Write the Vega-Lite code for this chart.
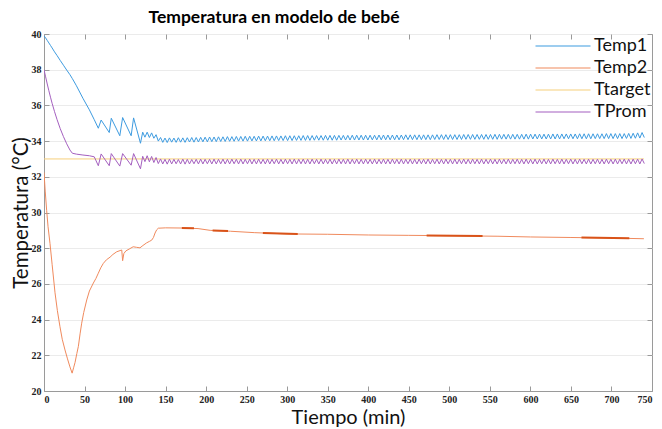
{
  "$schema": "https://vega.github.io/schema/vega-lite/v6.json",
  "width": 608,
  "height": 357,
  "autosize": {"type": "none"},
  "padding": {"left": 44, "top": 34, "right": 10, "bottom": 38},
  "background": "white",
  "view": {"stroke": "#9a9a9a"},
  "title": {"text": "Temperatura en modelo de bebé", "font": "Lato", "fontSize": 17.5, "fontWeight": "bold", "color": "#000", "anchor": "middle", "dx": -74, "offset": 3},
  "datasets": {
    "main": [
      {"t": 0, "Temp1": 39.9, "TProm": 38.0, "Ttarget": 33, "Temp2": 32.25},
      {"t": 1.5, "Temp2": 31.2},
      {"t": 2, "Temp1": 39.78, "TProm": 37.6},
      {"t": 3.3, "Temp2": 30.1},
      {"t": 4, "Temp1": 39.64, "TProm": 37.2},
      {"t": 5, "Temp2": 29.2},
      {"t": 6, "Temp1": 39.5, "TProm": 36.82},
      {"t": 7.4, "Temp2": 28.27},
      {"t": 8, "Temp1": 39.36, "TProm": 36.46},
      {"t": 10, "Temp1": 39.22, "TProm": 36.12, "Temp2": 27.1},
      {"t": 13, "Temp1": 39.0, "TProm": 35.65},
      {"t": 13.6, "Temp2": 25.5},
      {"t": 16, "Temp1": 38.8, "TProm": 35.22},
      {"t": 16.5, "Temp2": 24.5},
      {"t": 19.7, "Temp2": 23.6},
      {"t": 20, "Temp1": 38.52, "TProm": 34.7},
      {"t": 22.5, "Temp2": 22.9},
      {"t": 24, "Temp1": 38.25, "TProm": 34.25},
      {"t": 25.9, "Temp2": 22.3},
      {"t": 28, "Temp1": 37.98, "TProm": 33.85},
      {"t": 29, "Temp2": 21.8},
      {"t": 32, "Temp1": 37.72, "TProm": 33.5, "Temp2": 21.35},
      {"t": 34.7, "Temp2": 21.0},
      {"t": 35, "Temp1": 37.5, "TProm": 33.32},
      {"t": 36.5, "Temp2": 21.3},
      {"t": 38.3, "Temp2": 21.6},
      {"t": 40, "Temp1": 37.1, "TProm": 33.27},
      {"t": 40.5, "Temp2": 22.1},
      {"t": 42.4, "Temp2": 22.5},
      {"t": 44.5, "Temp2": 23.2},
      {"t": 46.5, "Temp2": 23.8},
      {"t": 48, "Temp1": 36.4, "TProm": 33.22},
      {"t": 49, "Temp2": 24.4},
      {"t": 52.7, "Temp2": 25.1},
      {"t": 56, "Temp1": 35.75, "TProm": 33.18, "Temp2": 25.6},
      {"t": 60.9, "Temp2": 26.05},
      {"t": 62, "Temp1": 35.2, "TProm": 33.12},
      {"t": 64, "Temp2": 26.3},
      {"t": 67, "Temp1": 34.72, "TProm": 32.62, "Temp2": 26.6},
      {"t": 70, "Temp2": 26.9},
      {"t": 70.5, "Temp1": 35.18, "TProm": 33.28},
      {"t": 73.2, "Temp2": 27.15},
      {"t": 77, "Temp2": 27.35},
      {"t": 80.5, "Temp1": 34.48, "TProm": 32.62},
      {"t": 81.5, "Temp2": 27.5},
      {"t": 83, "Temp1": 35.28, "TProm": 33.3},
      {"t": 85, "Temp2": 27.65},
      {"t": 89.7, "Temp2": 27.8},
      {"t": 93.5, "Temp1": 34.3, "TProm": 32.6},
      {"t": 95.9, "Temp2": 27.9},
      {"t": 97, "Temp1": 35.32, "TProm": 33.3, "Temp2": 27.3},
      {"t": 98.5, "Temp2": 27.7},
      {"t": 101, "Temp2": 27.85},
      {"t": 105, "Temp2": 27.95},
      {"t": 107.5, "Temp1": 34.3, "TProm": 32.65},
      {"t": 110, "Temp2": 28.08},
      {"t": 110.5, "Temp1": 35.3, "TProm": 33.3},
      {"t": 114, "Temp2": 28.05},
      {"t": 118.4, "Temp2": 28.02},
      {"t": 119, "Temp1": 33.88, "TProm": 32.45},
      {"t": 121.75, "Temp1": 34.5, "TProm": 33.15},
      {"t": 122, "Temp2": 28.15},
      {"t": 124.5, "Temp1": 34.22, "TProm": 32.85},
      {"t": 126.6, "Temp2": 28.3},
      {"t": 127.25, "Temp1": 34.5, "TProm": 33.18},
      {"t": 130, "Temp1": 34.2, "TProm": 32.84, "Temp2": 28.38},
      {"t": 132.75, "Temp1": 34.46, "TProm": 33.14},
      {"t": 132.8, "Temp2": 28.45},
      {"t": 135, "Temp2": 28.6},
      {"t": 135.5, "Temp1": 34.16, "TProm": 32.8},
      {"t": 137, "Temp2": 28.85},
      {"t": 138.25, "Temp1": 34.36, "TProm": 33.08},
      {"t": 139, "Temp2": 29.03},
      {"t": 141, "Temp1": 34.0, "TProm": 32.74, "Temp2": 29.12},
      {"t": 143.75, "Temp1": 34.2, "TProm": 33.0},
      {"t": 146.5, "Temp1": 33.93, "TProm": 32.72},
      {"t": 149.25, "Temp1": 34.17, "TProm": 32.98},
      {"t": 150, "Temp2": 29.14},
      {"t": 152, "Temp1": 33.92, "TProm": 32.71},
      {"t": 154.75, "Temp1": 34.18, "TProm": 32.99},
      {"t": 157.5, "Temp1": 33.94, "TProm": 32.72},
      {"t": 160.25, "Temp1": 34.17, "TProm": 32.98},
      {"t": 163, "Temp1": 33.93, "TProm": 32.73},
      {"t": 165.75, "Temp1": 34.19, "TProm": 32.97},
      {"t": 168.5, "Temp1": 33.94, "TProm": 32.72},
      {"t": 170, "Temp2": 29.13},
      {"t": 171.25, "Temp1": 34.18, "TProm": 32.99},
      {"t": 174, "Temp1": 33.93, "TProm": 32.71},
      {"t": 176.75, "Temp1": 34.19, "TProm": 32.98},
      {"t": 179.5, "Temp1": 33.95, "TProm": 32.72},
      {"t": 182.25, "Temp1": 34.2, "TProm": 32.97},
      {"t": 185, "Temp1": 33.94, "TProm": 32.73},
      {"t": 187.75, "Temp1": 34.2, "TProm": 32.98},
      {"t": 190, "Temp2": 29.1},
      {"t": 190.5, "Temp1": 33.95, "TProm": 32.72},
      {"t": 193.25, "Temp1": 34.21, "TProm": 32.99},
      {"t": 196, "Temp1": 33.96, "TProm": 32.72},
      {"t": 198.75, "Temp1": 34.22, "TProm": 32.98},
      {"t": 201.5, "Temp1": 33.96, "TProm": 32.73},
      {"t": 204.25, "Temp1": 34.23, "TProm": 32.98},
      {"t": 205, "Temp2": 29.0},
      {"t": 207, "Temp1": 33.97, "TProm": 32.72},
      {"t": 209.75, "Temp1": 34.23, "TProm": 32.99},
      {"t": 212.5, "Temp1": 33.97, "TProm": 32.72},
      {"t": 215.25, "Temp1": 34.24, "TProm": 32.98},
      {"t": 218, "Temp1": 33.98, "TProm": 32.73},
      {"t": 220.75, "Temp1": 34.24, "TProm": 32.99},
      {"t": 223.5, "Temp1": 33.98, "TProm": 32.72},
      {"t": 226.25, "Temp1": 34.25, "TProm": 32.98},
      {"t": 229, "Temp1": 33.99, "TProm": 32.72},
      {"t": 230, "Temp2": 28.95},
      {"t": 231.75, "Temp1": 34.25, "TProm": 32.99},
      {"t": 234.5, "Temp1": 33.99, "TProm": 32.73},
      {"t": 237.25, "Temp1": 34.26, "TProm": 32.98},
      {"t": 240, "Temp1": 34.0, "TProm": 32.72},
      {"t": 242.75, "Temp1": 34.26, "TProm": 32.99},
      {"t": 245.5, "Temp1": 34.0, "TProm": 32.72},
      {"t": 248.25, "Temp1": 34.27, "TProm": 32.98},
      {"t": 251, "Temp1": 34.0, "TProm": 32.73},
      {"t": 253.75, "Temp1": 34.27, "TProm": 32.99},
      {"t": 256.5, "Temp1": 34.01, "TProm": 32.72},
      {"t": 259.25, "Temp1": 34.27, "TProm": 32.98},
      {"t": 260, "Temp2": 28.87},
      {"t": 262, "Temp1": 34.01, "TProm": 32.72},
      {"t": 264.75, "Temp1": 34.28, "TProm": 32.99},
      {"t": 267.5, "Temp1": 34.01, "TProm": 32.73},
      {"t": 270.25, "Temp1": 34.28, "TProm": 32.98},
      {"t": 273, "Temp1": 34.02, "TProm": 32.72},
      {"t": 275.75, "Temp1": 34.28, "TProm": 32.99},
      {"t": 278.5, "Temp1": 34.02, "TProm": 32.72},
      {"t": 281.25, "Temp1": 34.29, "TProm": 32.98},
      {"t": 284, "Temp1": 34.02, "TProm": 32.73},
      {"t": 286.75, "Temp1": 34.29, "TProm": 32.99},
      {"t": 289.5, "Temp1": 34.03, "TProm": 32.72},
      {"t": 292.25, "Temp1": 34.29, "TProm": 32.98},
      {"t": 295, "Temp1": 34.03, "TProm": 32.72},
      {"t": 297.75, "Temp1": 34.3, "TProm": 32.99},
      {"t": 300, "Temp2": 28.8},
      {"t": 300.5, "Temp1": 34.03, "TProm": 32.73},
      {"t": 303.25, "Temp1": 34.3, "TProm": 32.98},
      {"t": 306, "Temp1": 34.03, "TProm": 32.72},
      {"t": 308.75, "Temp1": 34.3, "TProm": 32.99},
      {"t": 311.5, "Temp1": 34.04, "TProm": 32.72},
      {"t": 314.25, "Temp1": 34.3, "TProm": 32.98},
      {"t": 317, "Temp1": 34.04, "TProm": 32.73},
      {"t": 319.75, "Temp1": 34.31, "TProm": 32.99},
      {"t": 322.5, "Temp1": 34.04, "TProm": 32.72},
      {"t": 325.25, "Temp1": 34.31, "TProm": 32.98},
      {"t": 328, "Temp1": 34.04, "TProm": 32.72},
      {"t": 330.75, "Temp1": 34.31, "TProm": 32.99},
      {"t": 333.5, "Temp1": 34.05, "TProm": 32.73},
      {"t": 336.25, "Temp1": 34.31, "TProm": 32.98},
      {"t": 339, "Temp1": 34.05, "TProm": 32.72},
      {"t": 341.75, "Temp1": 34.31, "TProm": 32.99},
      {"t": 344.5, "Temp1": 34.05, "TProm": 32.72},
      {"t": 347.25, "Temp1": 34.32, "TProm": 32.98},
      {"t": 350, "Temp1": 34.05, "TProm": 32.73, "Temp2": 28.78},
      {"t": 352.75, "Temp1": 34.32, "TProm": 32.99},
      {"t": 355.5, "Temp1": 34.05, "TProm": 32.72},
      {"t": 358.25, "Temp1": 34.32, "TProm": 32.98},
      {"t": 361, "Temp1": 34.05, "TProm": 32.72},
      {"t": 363.75, "Temp1": 34.32, "TProm": 32.99},
      {"t": 366.5, "Temp1": 34.06, "TProm": 32.73},
      {"t": 369.25, "Temp1": 34.32, "TProm": 32.98},
      {"t": 372, "Temp1": 34.06, "TProm": 32.72},
      {"t": 374.75, "Temp1": 34.32, "TProm": 32.99},
      {"t": 377.5, "Temp1": 34.06, "TProm": 32.72},
      {"t": 380.25, "Temp1": 34.33, "TProm": 32.98},
      {"t": 383, "Temp1": 34.06, "TProm": 32.73},
      {"t": 385.75, "Temp1": 34.33, "TProm": 32.99},
      {"t": 388.5, "Temp1": 34.06, "TProm": 32.72},
      {"t": 391.25, "Temp1": 34.33, "TProm": 32.98},
      {"t": 394, "Temp1": 34.06, "TProm": 32.72},
      {"t": 396.75, "Temp1": 34.33, "TProm": 32.99},
      {"t": 399.5, "Temp1": 34.06, "TProm": 32.73},
      {"t": 400, "Temp2": 28.74},
      {"t": 402.25, "Temp1": 34.33, "TProm": 32.98},
      {"t": 405, "Temp1": 34.07, "TProm": 32.72},
      {"t": 407.75, "Temp1": 34.33, "TProm": 32.99},
      {"t": 410.5, "Temp1": 34.07, "TProm": 32.72},
      {"t": 413.25, "Temp1": 34.34, "TProm": 32.98},
      {"t": 416, "Temp1": 34.07, "TProm": 32.73},
      {"t": 418.75, "Temp1": 34.34, "TProm": 32.99},
      {"t": 421.5, "Temp1": 34.07, "TProm": 32.72},
      {"t": 424.25, "Temp1": 34.34, "TProm": 32.98},
      {"t": 427, "Temp1": 34.07, "TProm": 32.72},
      {"t": 429.75, "Temp1": 34.34, "TProm": 32.99},
      {"t": 432.5, "Temp1": 34.07, "TProm": 32.73},
      {"t": 435.25, "Temp1": 34.34, "TProm": 32.98},
      {"t": 438, "Temp1": 34.07, "TProm": 32.72},
      {"t": 440.75, "Temp1": 34.34, "TProm": 32.99},
      {"t": 443.5, "Temp1": 34.08, "TProm": 32.72},
      {"t": 446.25, "Temp1": 34.35, "TProm": 32.98},
      {"t": 449, "Temp1": 34.08, "TProm": 32.73},
      {"t": 450, "Temp2": 28.72},
      {"t": 451.75, "Temp1": 34.35, "TProm": 32.99},
      {"t": 454.5, "Temp1": 34.08, "TProm": 32.72},
      {"t": 457.25, "Temp1": 34.35, "TProm": 32.98},
      {"t": 460, "Temp1": 34.08, "TProm": 32.72},
      {"t": 462.75, "Temp1": 34.35, "TProm": 32.99},
      {"t": 465.5, "Temp1": 34.08, "TProm": 32.73},
      {"t": 468.25, "Temp1": 34.35, "TProm": 32.98},
      {"t": 471, "Temp1": 34.08, "TProm": 32.72},
      {"t": 473.75, "Temp1": 34.35, "TProm": 32.99},
      {"t": 476.5, "Temp1": 34.08, "TProm": 32.72},
      {"t": 479.25, "Temp1": 34.35, "TProm": 32.98},
      {"t": 482, "Temp1": 34.09, "TProm": 32.73},
      {"t": 484.75, "Temp1": 34.36, "TProm": 32.99},
      {"t": 487.5, "Temp1": 34.09, "TProm": 32.72},
      {"t": 490.25, "Temp1": 34.36, "TProm": 32.98},
      {"t": 493, "Temp1": 34.09, "TProm": 32.72},
      {"t": 495.75, "Temp1": 34.36, "TProm": 32.99},
      {"t": 498.5, "Temp1": 34.09, "TProm": 32.73},
      {"t": 500, "Temp2": 28.7},
      {"t": 501.25, "Temp1": 34.36, "TProm": 32.98},
      {"t": 504, "Temp1": 34.09, "TProm": 32.72},
      {"t": 506.75, "Temp1": 34.36, "TProm": 32.99},
      {"t": 509.5, "Temp1": 34.09, "TProm": 32.72},
      {"t": 512.25, "Temp1": 34.36, "TProm": 32.98},
      {"t": 515, "Temp1": 34.09, "TProm": 32.73},
      {"t": 517.75, "Temp1": 34.37, "TProm": 32.99},
      {"t": 520.5, "Temp1": 34.1, "TProm": 32.72},
      {"t": 523.25, "Temp1": 34.37, "TProm": 32.98},
      {"t": 526, "Temp1": 34.1, "TProm": 32.72},
      {"t": 528.75, "Temp1": 34.37, "TProm": 32.99},
      {"t": 531.5, "Temp1": 34.1, "TProm": 32.73},
      {"t": 534.25, "Temp1": 34.37, "TProm": 32.98},
      {"t": 537, "Temp1": 34.1, "TProm": 32.72},
      {"t": 539.75, "Temp1": 34.37, "TProm": 32.99},
      {"t": 542.5, "Temp1": 34.1, "TProm": 32.72},
      {"t": 545.25, "Temp1": 34.37, "TProm": 32.98},
      {"t": 548, "Temp1": 34.1, "TProm": 32.73},
      {"t": 550.75, "Temp1": 34.37, "TProm": 32.99},
      {"t": 553.5, "Temp1": 34.1, "TProm": 32.72},
      {"t": 556.25, "Temp1": 34.38, "TProm": 32.98},
      {"t": 559, "Temp1": 34.1, "TProm": 32.72},
      {"t": 560, "Temp2": 28.67},
      {"t": 561.75, "Temp1": 34.38, "TProm": 32.99},
      {"t": 564.5, "Temp1": 34.11, "TProm": 32.73},
      {"t": 567.25, "Temp1": 34.38, "TProm": 32.98},
      {"t": 570, "Temp1": 34.11, "TProm": 32.72},
      {"t": 572.75, "Temp1": 34.38, "TProm": 32.99},
      {"t": 575.5, "Temp1": 34.11, "TProm": 32.72},
      {"t": 578.25, "Temp1": 34.38, "TProm": 32.98},
      {"t": 581, "Temp1": 34.11, "TProm": 32.73},
      {"t": 583.75, "Temp1": 34.38, "TProm": 32.99},
      {"t": 586.5, "Temp1": 34.11, "TProm": 32.72},
      {"t": 589.25, "Temp1": 34.38, "TProm": 32.98},
      {"t": 592, "Temp1": 34.11, "TProm": 32.72},
      {"t": 594.75, "Temp1": 34.39, "TProm": 32.99},
      {"t": 597.5, "Temp1": 34.11, "TProm": 32.73},
      {"t": 600, "Temp2": 28.63},
      {"t": 600.25, "Temp1": 34.39, "TProm": 32.98},
      {"t": 603, "Temp1": 34.12, "TProm": 32.72},
      {"t": 605.75, "Temp1": 34.39, "TProm": 32.99},
      {"t": 608.5, "Temp1": 34.12, "TProm": 32.72},
      {"t": 611.25, "Temp1": 34.39, "TProm": 32.98},
      {"t": 614, "Temp1": 34.12, "TProm": 32.73},
      {"t": 616.75, "Temp1": 34.39, "TProm": 32.99},
      {"t": 619.5, "Temp1": 34.12, "TProm": 32.72},
      {"t": 622.25, "Temp1": 34.39, "TProm": 32.98},
      {"t": 625, "Temp1": 34.12, "TProm": 32.72},
      {"t": 627.75, "Temp1": 34.4, "TProm": 32.99},
      {"t": 630.5, "Temp1": 34.12, "TProm": 32.73},
      {"t": 633.25, "Temp1": 34.4, "TProm": 32.98},
      {"t": 636, "Temp1": 34.12, "TProm": 32.72},
      {"t": 638.75, "Temp1": 34.4, "TProm": 32.99},
      {"t": 641.5, "Temp1": 34.13, "TProm": 32.72},
      {"t": 644.25, "Temp1": 34.4, "TProm": 32.98},
      {"t": 647, "Temp1": 34.13, "TProm": 32.73},
      {"t": 649.75, "Temp1": 34.4, "TProm": 32.99},
      {"t": 650, "Temp2": 28.6},
      {"t": 652.5, "Temp1": 34.13, "TProm": 32.72},
      {"t": 655.25, "Temp1": 34.4, "TProm": 32.98},
      {"t": 658, "Temp1": 34.13, "TProm": 32.72},
      {"t": 660.75, "Temp1": 34.41, "TProm": 32.99},
      {"t": 663.5, "Temp1": 34.13, "TProm": 32.73},
      {"t": 666.25, "Temp1": 34.41, "TProm": 32.98},
      {"t": 669, "Temp1": 34.13, "TProm": 32.72},
      {"t": 671.75, "Temp1": 34.41, "TProm": 32.99},
      {"t": 674.5, "Temp1": 34.13, "TProm": 32.72},
      {"t": 677.25, "Temp1": 34.41, "TProm": 32.98},
      {"t": 680, "Temp1": 34.14, "TProm": 32.73},
      {"t": 682.75, "Temp1": 34.41, "TProm": 32.99},
      {"t": 685.5, "Temp1": 34.14, "TProm": 32.72},
      {"t": 688.25, "Temp1": 34.41, "TProm": 32.98},
      {"t": 691, "Temp1": 34.14, "TProm": 32.72},
      {"t": 693.75, "Temp1": 34.42, "TProm": 32.99},
      {"t": 696.5, "Temp1": 34.14, "TProm": 32.73},
      {"t": 699.25, "Temp1": 34.42, "TProm": 32.98},
      {"t": 700, "Temp2": 28.57},
      {"t": 702, "Temp1": 34.14, "TProm": 32.72},
      {"t": 704.75, "Temp1": 34.42, "TProm": 32.99},
      {"t": 707.5, "Temp1": 34.14, "TProm": 32.72},
      {"t": 710.25, "Temp1": 34.42, "TProm": 32.98},
      {"t": 713, "Temp1": 34.14, "TProm": 32.73},
      {"t": 715.75, "Temp1": 34.42, "TProm": 32.99},
      {"t": 718.5, "Temp1": 34.15, "TProm": 32.72},
      {"t": 721.25, "Temp1": 34.43, "TProm": 32.98},
      {"t": 724, "Temp1": 34.15, "TProm": 32.72},
      {"t": 726.75, "Temp1": 34.44, "TProm": 32.99},
      {"t": 729.5, "Temp1": 34.16, "TProm": 32.73},
      {"t": 732.25, "Temp1": 34.46, "TProm": 32.99},
      {"t": 735, "Temp1": 34.17, "TProm": 32.72},
      {"t": 737.75, "Temp1": 34.48, "TProm": 33.0},
      {"t": 740, "Ttarget": 33, "Temp2": 28.53},
      {"t": 740.5, "Temp1": 34.2, "TProm": 32.74}
    ],
    "dense": [
      {"seg": "A", "t": 170, "v": 29.13},
      {"seg": "A", "t": 185, "v": 29.12},
      {"seg": "B", "t": 208, "v": 28.99},
      {"seg": "B", "t": 227, "v": 28.96},
      {"seg": "C", "t": 270, "v": 28.85},
      {"seg": "C", "t": 313, "v": 28.8},
      {"seg": "D", "t": 472, "v": 28.71},
      {"seg": "D", "t": 541, "v": 28.68},
      {"seg": "E", "t": 663, "v": 28.6},
      {"seg": "E", "t": 722, "v": 28.56}
    ]
  },
  "layer": [
    {
      "data": {"name": "main"},
      "transform": [
        {"fold": ["Temp1", "Temp2", "Ttarget", "TProm"], "as": ["serie", "valor"]},
        {"filter": {"field": "valor", "valid": true}}
      ],
      "mark": {"type": "line", "strokeWidth": 1, "clip": true},
      "encoding": {
        "x": {"field": "t", "type": "quantitative", "scale": {"domain": [0, 750], "nice": false, "zero": false},
          "axis": {"orient": "bottom", "values": [0,50,100,150,200,250,300,350,400,450,500,550,600,650,700,750], "title": "Tiempo (min)", "grid": false, "titleFontSize": 20, "titlePadding": 3, "labelPadding": 8}},
        "y": {"field": "valor", "type": "quantitative", "scale": {"domain": [20, 40], "nice": false, "zero": false},
          "axis": {"orient": "left", "values": [20,22,24,26,28,30,32,34,36,38,40], "title": "Temperatura (°C)", "grid": true}},
        "color": {"field": "serie", "type": "nominal",
          "scale": {"domain": ["Temp1", "Temp2", "Ttarget", "TProm"], "range": ["#3d9be0", "#f08a5d", "#f6cf7c", "#a45fbf"]},
          "legend": {"orient": "none", "legendX": 510, "legendY": 3, "title": null, "symbolType": "M-5,0H5", "symbolSize": 121, "symbolStrokeWidth": 1.2, "labelFont": "Lato", "labelFontSize": 18, "labelColor": "#111", "labelOffset": 22, "rowPadding": 4}},
        "order": {"field": "t", "type": "quantitative"}
      }
    },
    {
      "data": {"name": "dense"},
      "mark": {"type": "line", "strokeWidth": 2, "color": "#d95319"},
      "encoding": {
        "x": {"field": "t", "type": "quantitative", "scale": {"domain": [0, 750], "nice": false, "zero": false},
          "axis": {"orient": "top", "values": [0,50,100,150,200,250,300,350,400,450,500,550,600,650,700,750], "labels": false, "title": null, "grid": false, "domain": false}},
        "y": {"field": "v", "type": "quantitative", "scale": {"domain": [20, 40], "nice": false, "zero": false},
          "axis": {"orient": "right", "values": [20,22,24,26,28,30,32,34,36,38,40], "labels": false, "title": null, "grid": false, "domain": false}},
        "detail": {"field": "seg", "type": "nominal"}
      }
    }
  ],
  "resolve": {"axis": {"x": "independent", "y": "independent"}},
  "config": {
    "axis": {
      "tickSize": -5,
      "tickColor": "#9a9a9a",
      "domainColor": "#9a9a9a",
      "gridColor": "#ebebeb",
      "labelFont": "Liberation Serif",
      "labelFontWeight": "bold",
      "labelFontSize": 10,
      "labelColor": "#222",
      "titleFont": "Lato",
      "titleFontWeight": "normal",
      "titleFontSize": 20.5,
      "titleColor": "#111"
    },
    "axisY": {"labelPadding": 8, "titlePadding": 0}
  }
}
